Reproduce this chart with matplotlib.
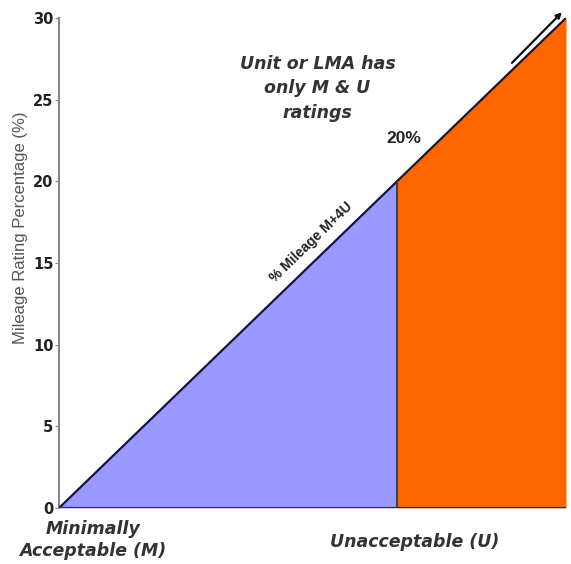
import matplotlib
matplotlib.use("Agg")
import matplotlib.pyplot as plt

# Data
categories = ["Minimally\nAcceptable (M)", "Unacceptable (U)"]
x_bounds = [0.0, 1.0, 1.5]          # M segment 0-1, U segment 1-1.5
line_values = [0, 20, 30]           # % Mileage M+4U at each bound
threshold_label = "20%"
yticks = [0, 5, 10, 15, 20, 25, 30]
colors = ["#9999FF", "#FF6600"]

plt.rcParams['font.family'] = ['Liberation Sans', 'DejaVu Sans']

fig = plt.figure(figsize=(5.71, 5.64), dpi=100)
ax = fig.add_axes([59/571, 56/564, (566-59)/571, (508-18)/564])

# Fills
for i in range(2):
    xs = [x_bounds[i], x_bounds[i+1]]
    ys = [line_values[i], line_values[i+1]]
    ax.fill_between(xs, 0, ys, color=colors[i], linewidth=0, zorder=1)
# edges
ax.plot(x_bounds, line_values, color="#141438", lw=1.6, zorder=3)
ax.plot([x_bounds[0], x_bounds[-1]], [0, 0], color="#333340", lw=1.6, zorder=3)
ax.plot([x_bounds[1], x_bounds[1]], [0, line_values[1]], color="#3a2a20", lw=1.2, zorder=3)

# arrow parallel to line, slightly above it
ax.annotate("", xy=(1.488, 30.35), xytext=(1.34, 27.25),
            arrowprops=dict(arrowstyle="-|>", color="#111111", lw=1.6,
                            mutation_scale=8, shrinkA=0, shrinkB=0),
            annotation_clip=False, zorder=5)

ax.set_xlim(0, 1.5)
ax.set_ylim(0, 30)
ax.set_yticks(yticks)
ax.set_yticklabels([str(t) for t in yticks], fontsize=10.5, color="#222222",
                   fontfamily="Liberation Sans Narrow", fontweight="bold")
ax.set_xticks([])
for s in ["top", "right", "bottom"]:
    ax.spines[s].set_visible(False)
ax.spines["left"].set_color("#888888")
ax.spines["left"].set_linewidth(1.5)
ax.tick_params(axis="y", length=3, color="#888888", pad=1)

fig.text(21/571, 1 - 228/564, "Mileage Rating Percentage (%)", rotation=90,
         ha="center", va="center", fontsize=12, color="#555555")

bi = dict(fontweight="bold", fontstyle="italic", color="#333333",
          family=["DejaVu Sans"])
ax.text(0.765, 25.7, "Unit or LMA has\nonly M & U\nratings", ha="center", va="center",
        fontsize=12.5, linespacing=1.45, **bi)
ax.text(1.02, 22.6, threshold_label, ha="center", va="center", fontsize=12.5,
        fontweight="bold", color="#222222")
ax.text(0.745, 16.3, "% Mileage M+4U", ha="center", va="center", fontsize=10,
        fontweight="bold", color="#222222", rotation=44, rotation_mode="anchor")

fig.text(93/571, 1 - 540/564, categories[0], ha="center", va="center",
         fontsize=12.5, linespacing=1.35, **bi)
fig.text(415/571, 1 - 542/564, categories[1], ha="center", va="center",
         fontsize=12.5, **bi)

fig.savefig("out.png", dpi=100)
